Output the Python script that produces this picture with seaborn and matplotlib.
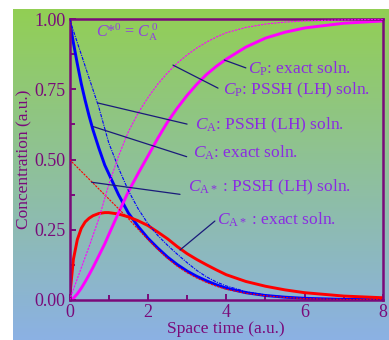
import numpy as np
import pandas as pd
import matplotlib
matplotlib.use("Agg")
import matplotlib.pyplot as plt
import seaborn as sns

# ---- data ----
t_exact = [0, 0.05, 0.1, 0.2, 0.3, 0.4, 0.5, 0.6, 0.75, 0.9, 1.0, 1.25, 1.5, 1.75,
           2.0, 2.25, 2.5, 2.75, 3.0, 3.25, 3.5, 3.75, 4.0, 4.5, 5.0, 5.5, 6.0, 7.0, 8.0]
ca_exact = [1.0, 0.955, 0.915, 0.84, 0.77, 0.71, 0.655, 0.605, 0.54, 0.48, 0.45, 0.375,
            0.31, 0.262, 0.22, 0.185, 0.153, 0.126, 0.103, 0.084, 0.068, 0.054, 0.042,
            0.026, 0.016, 0.010, 0.006, 0.002, 0.001]
castar_exact = [0.0, 0.075, 0.145, 0.215, 0.255, 0.278, 0.291, 0.30, 0.308, 0.311, 0.311,
                0.306, 0.296, 0.282, 0.265, 0.242, 0.218, 0.19, 0.165, 0.144, 0.125, 0.107,
                0.09, 0.066, 0.049, 0.036, 0.026, 0.014, 0.008]
cp_exact = [0.0, 0.002, 0.006, 0.022, 0.042, 0.065, 0.09, 0.116, 0.158, 0.2, 0.232, 0.31,
            0.385, 0.45, 0.512, 0.575, 0.633, 0.683, 0.728, 0.768, 0.803, 0.832, 0.857,
            0.9, 0.932, 0.953, 0.968, 0.985, 0.993]

t_pssh = [0, 0.25, 0.5, 0.75, 1.0, 1.25, 1.5, 1.75, 2.0, 2.25, 2.5, 2.75, 3.0, 3.25,
          3.5, 3.75, 4.0, 4.5, 5.0, 5.5, 6.0, 7.0, 8.0]
ca_pssh = [1.0, 0.895, 0.79, 0.685, 0.56, 0.47, 0.39, 0.325, 0.272, 0.23, 0.195, 0.163,
           0.133, 0.105, 0.082, 0.064, 0.05, 0.03, 0.018, 0.011, 0.006, 0.002, 0.001]
castar_pssh = [0.5, 0.465, 0.43, 0.395, 0.36, 0.325, 0.29, 0.252, 0.215, 0.18, 0.148, 0.12,
               0.097, 0.078, 0.062, 0.049, 0.038, 0.024, 0.015, 0.009, 0.005, 0.002, 0.001]
cp_pssh = [0.0, 0.095, 0.19, 0.29, 0.41, 0.512, 0.598, 0.665, 0.72, 0.768, 0.808, 0.843,
           0.872, 0.897, 0.918, 0.936, 0.951, 0.97, 0.982, 0.989, 0.993, 0.997, 0.999]

x_ticks = [0, 2, 4, 6, 8]
x_ticklabels = ["0", "2", "4", "6", "8"]
y_ticks = [0.0, 0.25, 0.5, 0.75, 1.0]
y_ticklabels = ["0.00", "0.25", "0.50", "0.75", "1.00"]

# ---- styling ----
sns.set_style("ticks")
plt.rcParams['font.family'] = ['Liberation Serif', 'DejaVu Serif']
plt.rcParams['mathtext.fontset'] = 'custom'
plt.rcParams['mathtext.rm'] = 'Liberation Serif'
plt.rcParams['mathtext.it'] = 'Liberation Serif:italic'
plt.rcParams['mathtext.bf'] = 'Liberation Serif:bold'

PURPLE = "#7a0a7a"
VIOLET = "#8a2be2"
NAVY = "#1a1a7a"

fig = plt.figure(figsize=(3.89, 3.40), dpi=100)

# gradient background
bg = fig.add_axes([13/389, 0, 376/389, 331/340], zorder=0)
top = np.array([146, 207, 84]) / 255
bot = np.array([139, 177, 228]) / 255
n = 256
grad = np.linspace(0, 1, n)[:, None, None] * (bot - top) + top
grad = np.repeat(grad, 2, axis=1)
bg.imshow(grad, aspect="auto", extent=[0, 1, 0, 1])
bg.set_axis_off()

ax = fig.add_axes([69.5/389, 40/340, (383-69.5)/389, (300-19)/340], zorder=1)
ax.patch.set_alpha(0)

df_e = pd.DataFrame({"t": t_exact, "A": ca_exact, "As": castar_exact, "P": cp_exact})
df_p = pd.DataFrame({"t": t_pssh, "A": ca_pssh, "As": castar_pssh, "P": cp_pssh})

sns.lineplot(data=df_p, x="t", y="A", ax=ax, color="#0000ff", lw=0.8,
             linestyle=(0, (3, 1, 1, 1)), zorder=3)
sns.lineplot(data=df_p, x="t", y="As", ax=ax, color="#ff0000", lw=0.8,
             linestyle=(0, (2, 1)), zorder=3)
sns.lineplot(data=df_p, x="t", y="P", ax=ax, color="#ff00ff", lw=0.8,
             linestyle=(0, (2, 1)), zorder=3)
sns.lineplot(data=df_e, x="t", y="A", ax=ax, color="#0000ff", lw=2.1, zorder=2)
sns.lineplot(data=df_e, x="t", y="As", ax=ax, color="#ff0000", lw=2.1, zorder=2)
sns.lineplot(data=df_e, x="t", y="P", ax=ax, color="#ff00ff", lw=2.1, zorder=2)

ax.set_xlim(0, 8)
ax.set_ylim(0, 1)
ax.set_xticks(x_ticks)
ax.set_xticklabels(x_ticklabels)
ax.set_yticks(y_ticks)
ax.set_yticklabels(y_ticklabels)
ax.set_xticks([1, 3, 5, 7], minor=True)
ax.set_yticks([0.125, 0.375, 0.625, 0.875], minor=True)
ax.tick_params(which="both", direction="in", color=PURPLE, width=1.4,
               labelcolor=PURPLE, labelsize=13, pad=3)
ax.tick_params(which="major", length=4.5)
ax.tick_params(which="minor", length=3.5)
for s in ax.spines.values():
    s.set_color(PURPLE)
    s.set_linewidth(1.8)
    s.set_visible(True)

ax.set_xlabel("Space time (a.u.)", color=PURPLE, fontsize=12.5, labelpad=0)
ax.set_ylabel("Concentration (a.u.)", color=PURPLE, fontsize=12.5, labelpad=1)

# annotations
notes = [
    ((3.95, 0.854), (4.50, 0.826), r"$C_{\rm P}$: exact soln."),
    ((2.64, 0.836), (3.79, 0.754), r"$C_{\rm P}$: PSSH (LH) soln."),
    ((0.727, 0.701), (3.00, 0.626), r"$C_{\rm A}$: PSSH (LH) soln."),
    ((0.607, 0.617), (2.99, 0.510), r"$C_{\rm A}$: exact soln."),
    ((0.566, 0.419), (2.82, 0.376), r"$C_{\rm A*}$ : PSSH (LH) soln."),
    ((2.82, 0.178), (3.71, 0.281), r"$C_{\rm A*}$ : exact soln."),
]
text_pos = [(4.55, 0.822), (3.92, 0.747), (3.20, 0.623), (3.15, 0.523),
            (3.02, 0.402), (3.76, 0.285)]
for (p0, p1, label), tp in zip(notes, text_pos):
    ax.plot([p0[0], p1[0]], [p0[1], p1[1]], color=NAVY, lw=0.9, zorder=4)
    ax.text(tp[0], tp[1], label, color=VIOLET, fontsize=12.5, ha="left", va="center",
            zorder=5)

ax.text(1.47, 0.952, r"$C$*$^0$ = $C_{\rm A}^{\;0}$", color="#9040e0", fontsize=11.5,
        ha="center", va="center", zorder=5)

fig.savefig("out.png", dpi=100)
